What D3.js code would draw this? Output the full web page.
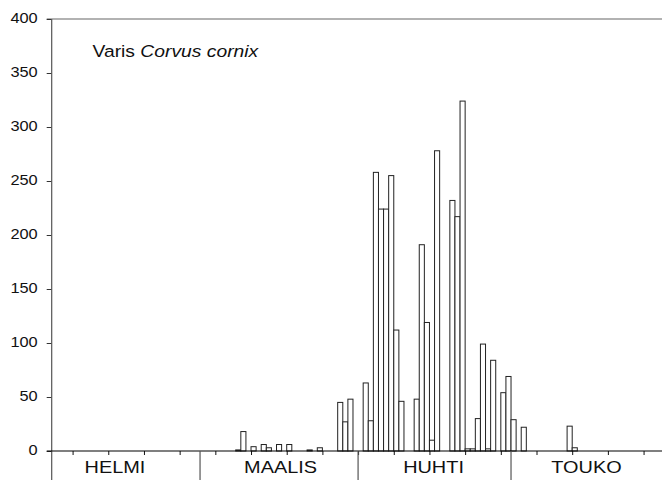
<!DOCTYPE html>
<html>
<head>
<meta charset="utf-8">
<script src="https://cdn.jsdelivr.net/npm/d3@7"></script>
<style>
  html, body { margin: 0; padding: 0; background: #fff; }
  svg { display: block; font-family: "Liberation Sans", Arial, sans-serif; }
</style>
</head>
<body>
<svg id="chart" width="662" height="480"></svg>
<script>
// Day index: 0 = 1 February (leap year: Feb has 29 days)
const barDays   = [36, 37, 39, 41, 42, 44, 46, 50, 52, 56, 57, 58, 61, 62, 63, 64, 65, 66, 67, 68,
                   71, 72, 73, 74, 75, 78, 79, 80, 81, 82, 83, 84, 85, 86, 88, 89, 90, 92, 101, 102];
const barCounts = [1, 18, 4, 6, 3, 6, 6, 1, 3, 45, 27, 48, 63, 28, 258, 224, 224, 255, 112, 46,
                   48, 191, 119, 10, 278, 232, 217, 324, 2, 2, 30, 99, 2, 84, 54, 69, 29, 22, 23, 3];

const monthNames      = ["HELMI", "MAALIS", "HUHTI", "TOUKO"];
const monthLabelDays  = [12.3, 44.8, 74.8, 104.8];
const monthBoundaries = [29, 60, 90];
const weekTicks       = [4, 11, 18, 25, 32, 39, 46, 53, 60, 67, 74, 81, 88, 95, 102, 109, 116];
const yTicks          = [0, 50, 100, 150, 200, 250, 300, 350, 400];
const titlePlain  = "Varis ";
const titleItalic = "Corvus cornix";

const W = 662, H = 480;
const STRETCH = 1.17;
const svg = d3.select("#chart");

const x = d3.scaleLinear().domain([0, 120]).range([52.2, 52.2 + 120 * 5.098]);
const y = d3.scaleLinear().domain([0, 400]).range([451, 19]);
const axisX = 51.7;

// bars
svg.append("g").selectAll("rect")
  .data(barDays.map((d, i) => ({ d, v: barCounts[i] })))
  .join("rect")
  .attr("x", d => x(d.d))
  .attr("width", d => x(d.d + 1) - x(d.d))
  .attr("y", d => y(d.v))
  .attr("height", d => y(0) - y(d.v))
  .attr("fill", "#fff")
  .attr("stroke", "#222")
  .attr("stroke-width", 1);

// top border line (at 400)
svg.append("line")
  .attr("x1", axisX - 5).attr("x2", W)
  .attr("y1", y(400)).attr("y2", y(400))
  .attr("stroke", "#666").attr("stroke-width", 1.2);

// y axis
const yAxis = svg.append("g")
  .attr("transform", `translate(${axisX},0)`)
  .call(d3.axisLeft(y).tickValues(yTicks).tickSize(5).tickPadding(9).tickSizeOuter(0));
yAxis.select(".domain").remove();
yAxis.selectAll(".tick line").attr("stroke", "#333");
yAxis.selectAll(".tick text")
  .attr("font-size", 14)
  .attr("font-family", "Liberation Sans, Arial, sans-serif")
  .attr("fill", "#111")
  .attr("dy", "0.25em")
  .each(function () {
    const tx = +this.getAttribute("x");
    d3.select(this).attr("x", 0).attr("transform", `translate(${tx},0) scale(${STRETCH},1)`);
  });
svg.append("line")
  .attr("x1", axisX).attr("x2", axisX)
  .attr("y1", y(400)).attr("y2", H)
  .attr("stroke", "#555").attr("stroke-width", 1.2);

// x axis
const xAxis = svg.append("g")
  .attr("transform", `translate(0,${y(0)})`)
  .call(d3.axisBottom(x).tickValues(weekTicks).tickSize(4).tickFormat(""));
xAxis.select(".domain").remove();
xAxis.selectAll(".tick line").attr("stroke", "#111");
svg.append("line")
  .attr("x1", axisX - 5).attr("x2", W)
  .attr("y1", y(0)).attr("y2", y(0))
  .attr("stroke", "#000").attr("stroke-width", 1.2);

// month boundaries
svg.append("g").selectAll("line")
  .data(monthBoundaries)
  .join("line")
  .attr("x1", d => x(d)).attr("x2", d => x(d))
  .attr("y1", y(0)).attr("y2", H)
  .attr("stroke", "#555").attr("stroke-width", 1.2);

// month labels
svg.append("g").selectAll("text")
  .data(monthNames)
  .join("text")
  .attr("transform", (d, i) => `translate(${x(monthLabelDays[i])},473.3) scale(${STRETCH},1)`)
  .attr("text-anchor", "middle")
  .attr("font-size", 17)
  .attr("fill", "#111")
  .text(d => d);

// title
const title = svg.append("text")
  .attr("transform", `translate(92.5,56.5) scale(${STRETCH},1)`)
  .attr("font-size", 16.5)
  .attr("fill", "#111");
title.append("tspan").text(titlePlain);
title.append("tspan").attr("font-style", "italic").text(titleItalic);
</script>
</body>
</html>
